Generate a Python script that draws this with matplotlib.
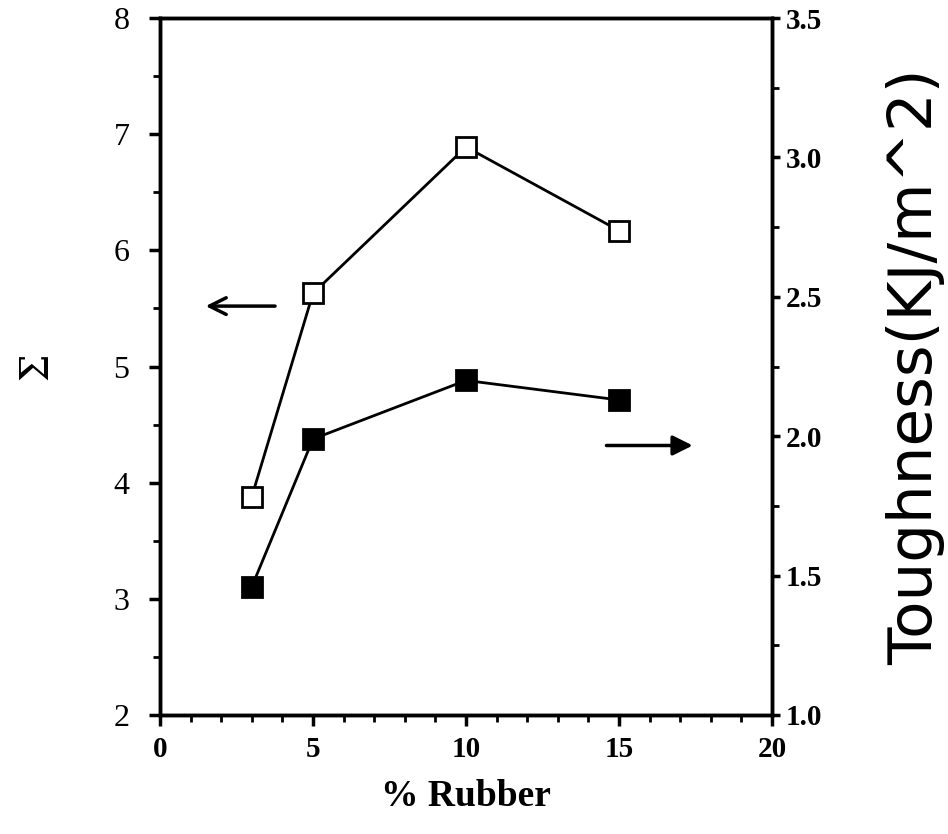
import matplotlib
matplotlib.use("Agg")
import matplotlib.pyplot as plt
from matplotlib.ticker import MultipleLocator

# data
rubber = [3, 5, 10, 15]
sigma = [3.88, 5.63, 6.89, 6.17]          # left axis, open squares
toughness = [1.46, 1.99, 2.20, 2.13]      # right axis, filled squares

x_ticks = [0, 5, 10, 15, 20]
left_ticks = [2, 3, 4, 5, 6, 7, 8]
right_ticks = [1.0, 1.5, 2.0, 2.5, 3.0, 3.5]

fig = plt.figure(figsize=(9.48, 8.34), dpi=100)
ax = fig.add_axes([0.1688, 0.1427, 0.6455, 0.8357])
ax2 = ax.twinx()

ax.plot(rubber, sigma, color="black", lw=2, marker="s", ms=14,
        mfc="white", mec="black", mew=2, zorder=3)
ax2.plot(rubber, toughness, color="black", lw=2, marker="s", ms=14,
         mfc="black", mec="black", mew=2, zorder=3)

ax.set_xlim(0, 20)
ax.set_ylim(2, 8)
ax2.set_ylim(1.0, 3.5)

for a in (ax, ax2):
    for s in a.spines.values():
        s.set_linewidth(2.5)
ax.tick_params(axis="both", which="major", direction="out", length=8, width=2.5)
ax.tick_params(axis="both", which="minor", direction="out", length=5, width=2)
ax.tick_params(axis="x", which="major", pad=7, labelsize=21)
ax.tick_params(axis="y", which="major", pad=14, labelsize=23)
ax2.tick_params(axis="y", which="major", direction="out", length=6, width=2.5,
                pad=4, labelsize=21)
ax2.tick_params(axis="y", which="minor", direction="out", length=5, width=2)

ax.set_xticks(x_ticks)
ax.set_xticklabels([str(v) for v in x_ticks],
                   fontfamily="Liberation Serif", fontweight="bold")
ax.xaxis.set_minor_locator(MultipleLocator(1))
ax.set_yticks(left_ticks)
ax.set_yticklabels([str(v) for v in left_ticks], fontfamily="Liberation Serif")
ax.yaxis.set_minor_locator(MultipleLocator(0.5))
ax2.set_yticks(right_ticks)
ax2.set_yticklabels(["%.1f" % v for v in right_ticks],
                    fontfamily="Liberation Serif", fontweight="bold")
ax2.yaxis.set_minor_locator(MultipleLocator(0.25))

ax.set_xlabel("% Rubber", fontfamily="Liberation Serif", fontweight="bold",
              fontsize=27, labelpad=12)
ax.set_ylabel("Σ", fontfamily="DejaVu Serif", fontsize=28, labelpad=42)
ax2.set_ylabel("Toughness(KJ/m^2)", fontfamily="DejaVu Sans", fontsize=44,
               labelpad=46)

# arrows pointing to the matching axis
ax.annotate("", xy=(1.4, 5.52), xytext=(3.85, 5.52),
            arrowprops=dict(arrowstyle="->", lw=2.5, color="black",
                            mutation_scale=30))
ax.annotate("", xy=(17.5, 4.32), xytext=(14.5, 4.32),
            arrowprops=dict(arrowstyle="-|>", lw=2.5, color="black",
                            mutation_scale=30))

fig.savefig("out.png", dpi=100)
